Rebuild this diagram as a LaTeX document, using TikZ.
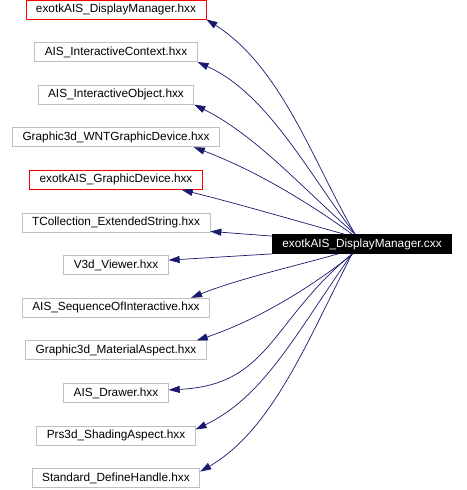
\documentclass[tikz,border=0pt]{standalone}
\usepackage{fontspec}
\setmainfont{Liberation Sans}
\usepackage{tikz}
\usetikzlibrary{positioning,arrows.meta}
\definecolor{edgeblue}{RGB}{25,25,112}
\definecolor{boxgray}{RGB}{191,191,191}

\begin{document}
\begin{tikzpicture}[x=1pt,y=-1pt,
    hdr/.style={draw=boxgray, fill=white, line width=0.8pt, inner xsep=10pt, inner ysep=0pt,
        minimum height=19pt, font=\fontsize{11.8}{14}\selectfont},
    hdrred/.style={hdr, draw=red},
    srcfile/.style={hdr, draw=black, fill=black, text=white},
    dep/.style={draw=edgeblue, line width=0.7pt, -{Triangle[length=11pt,width=7pt]}},
    node distance=22.8pt]
    \useasboundingbox (0,0) rectangle (466,490);
    \node[hdrred] (dmhxx) at (116,9.5) {exotkAIS\_DisplayManager.hxx};
    \node[hdr, below=of dmhxx] (ctx) {AIS\_InteractiveContext.hxx};
    \node[hdr, below=of ctx] (iobj) {AIS\_InteractiveObject.hxx};
    \node[hdr, below=of iobj] (wntdev) {Graphic3d\_WNTGraphicDevice.hxx};
    \node[hdrred, below=of wntdev] (gdev) {exotkAIS\_GraphicDevice.hxx};
    \node[hdr, below=of gdev] (extstr) {TCollection\_ExtendedString.hxx};
    \node[hdr, below=of extstr] (viewer) {V3d\_Viewer.hxx};
    \node[hdr, below=of viewer] (seqint) {AIS\_SequenceOfInteractive.hxx};
    \node[hdr, below=of seqint] (matasp) {Graphic3d\_MaterialAspect.hxx};
    \node[hdr, below=of matasp] (drawer) {AIS\_Drawer.hxx};
    \node[hdr, below=of drawer] (shasp) {Prs3d\_ShadingAspect.hxx};
    \node[hdr, below=of shasp] (defh) {Standard\_DefineHandle.hxx};
    \node[srcfile] (dmcxx) at (362,244) {exotkAIS\_DisplayManager.cxx};
    \draw[dep] ([xshift=-7pt]dmcxx.north) .. controls (312,159) and (281,67) .. (dmhxx.south east);
    \draw[dep] ([xshift=-7pt]dmcxx.north) .. controls (308,173) and (268,94) .. (ctx.south east);
    \draw[dep] ([xshift=-7pt]dmcxx.north) .. controls (303,189) and (257,136) .. (iobj.south east);
    \draw[dep] ([xshift=-10pt]dmcxx.north) .. controls (305,200) and (252,169) .. ([xshift=-26pt]wntdev.south east);
    \draw[dep] ([xshift=-18pt]dmcxx.north) .. controls (290,219) and (235,203) .. ([xshift=-21pt]gdev.south east);
    \draw[dep] ([yshift=-2pt]dmcxx.north west) -- ([yshift=1pt]extstr.south east);
    \draw[dep] (dmcxx.south west) -- ([yshift=5pt]viewer.east);
    \draw[dep] ([xshift=-24pt]dmcxx.south) .. controls (288,268) and (238,279) .. ([xshift=-19pt]seqint.north east);
    \draw[dep] ([xshift=-9pt]dmcxx.south) .. controls (305,292) and (252,322) .. ([xshift=-10pt]matasp.north east);
    \draw[dep] ([xshift=-10pt]dmcxx.south) .. controls (270,322) and (270,385) .. ([yshift=3pt]drawer.east);
    \draw[dep] ([xshift=-10pt]dmcxx.south) .. controls (296,333) and (265,396) .. ([yshift=6pt]shasp.east);
    \draw[dep] ([xshift=-10pt]dmcxx.south) .. controls (307,342) and (272,430) .. ([yshift=6.5pt]defh.east);
\end{tikzpicture}
\end{document}
